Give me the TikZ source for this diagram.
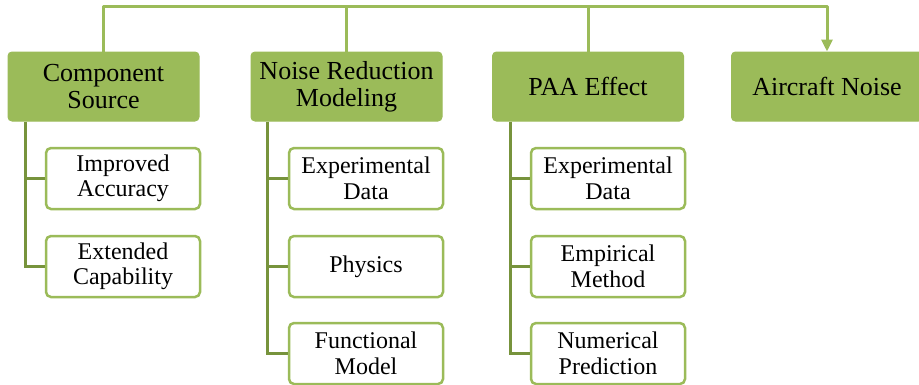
\documentclass[tikz,border=0pt]{standalone}
\usepackage{fontspec}
\setmainfont{Liberation Serif}
\usepackage{xcolor}
\usetikzlibrary{arrows.meta}
\definecolor{olive}{HTML}{9BBB59}
\definecolor{darkolive}{HTML}{77933C}
\tikzset{
  head/.style={
    draw=olive,
    fill=olive,
    line width=1pt,
    rounded corners=4pt,
    minimum width=191pt,
    minimum height=69pt,
    align=center,
    font=\fontsize{26}{27}\selectfont},
  leaf/.style={
    draw=olive,
    fill=white,
    line width=2.5pt,
    rounded corners=5pt,
    minimum width=154pt,
    minimum height=61pt,
    align=center,
    font=\fontsize{24}{25.5}\selectfont},
  trunk/.style={
    draw=olive,
    line width=3pt},
  branch/.style={
    draw=darkolive,
    line width=3pt}
  }

\begin{document}
\begin{tikzpicture}[x=1pt,y=-1pt]
    \useasboundingbox (0,0) rectangle (919,384);
    \node[head] (comp) at (103.5,86.5) {Component\\Source};
    \node[head] (nrm) at (346.5,86.5) {Noise Reduction\\Modeling};
    \node[head] (paa) at (588,86.5) {PAA Effect};
    \node[head] (air) at (827,86.5) {Aircraft Noise};
    \node[leaf] (ia) at (123,178.5) {Improved\\Accuracy};
    \node[leaf] (ec) at (123,266.5) {Extended\\Capability};
    \node[leaf] (nexp) at (366,178.5) {Experimental\\Data};
    \node[leaf] (phys) at (366,266.5) {Physics};
    \node[leaf] (func) at (366,353.5) {Functional\\Model};
    \node[leaf] (pexp) at (608,178.5) {Experimental\\Data};
    \node[leaf] (emp) at (608,266.5) {Empirical\\Method};
    \node[leaf] (num) at (608,353.5) {Numerical\\Prediction};
    \draw [trunk, line join=round, -{Triangle[width=11pt,length=12pt]}]
    (comp.north) -- ++(0,-45) -| (air.north);
    \draw [trunk]
    (nrm.north) -- ++(0,-45)
    (paa.north) -- ++(0,-45);
    \draw [branch]
    ([xshift=18pt]comp.south west) |- (ia.west)
    ([xshift=18pt]comp.south west) |- (ec.west)
    ([xshift=17pt]nrm.south west) |- (nexp.west)
    ([xshift=17pt]nrm.south west) |- (phys.west)
    ([xshift=17pt]nrm.south west) |- (func.west)
    ([xshift=18pt]paa.south west) |- (pexp.west)
    ([xshift=18pt]paa.south west) |- (emp.west)
    ([xshift=18pt]paa.south west) |- (num.west);
  \end{tikzpicture}
\end{document}
